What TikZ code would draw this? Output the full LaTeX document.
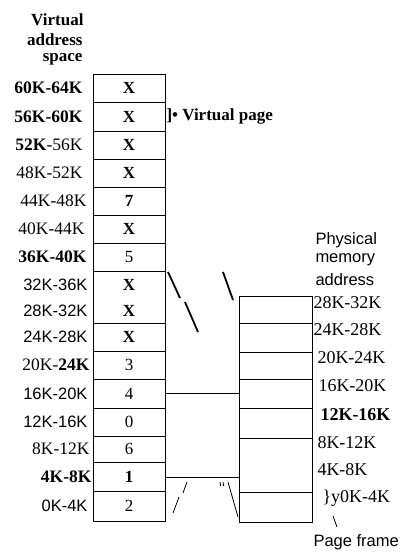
\documentclass[tikz,border=0pt]{standalone}
\usepackage{fontspec}
\setmainfont{Liberation Serif}
\newfontfamily\arialf{Liberation Sans}
\begin{document}
\begin{tikzpicture}[x=1pt,y=-1pt,line width=1pt,
  lbl/.style={anchor=east,inner sep=0pt,font=\fontsize{17.5}{20}\selectfont},
  slbl/.style={anchor=east,inner sep=0pt,font=\arialf\fontsize{16.5}{20}\selectfont},
  val/.style={inner sep=0pt,font=\fontsize{17}{20}\selectfont},
  rlbl/.style={anchor=west,inner sep=0pt,font=\fontsize{18}{20}\selectfont},
  hdr/.style={anchor=east,inner sep=0pt,font=\fontsize{17}{20}\selectfont},
  phys/.style={anchor=west,inner sep=0pt,font=\arialf\fontsize{16.5}{20}\selectfont},
  tick/.style={line width=1.8pt},
  thin/.style={line width=0.8pt}]
\useasboundingbox (0,0) rectangle (405,558);
% headings
\node[hdr] (h1) at (84,20) {\textbf{Virtual}};
\node[hdr] (h2) at (83,40) {\textbf{address}};
\node[hdr] (h3) at (83,59) {\textbf{space}};
% left table
\draw (93,74) rectangle (165,521);
\foreach \yy in {102,131,159,187,215,243,271,323,351,379,408,436,462,491}
  \draw (93,\yy) -- (165,\yy);
% left labels
\node[lbl] (l15) at (83,88) {\textbf{60K-64K}};
\node[lbl] (l14) at (83,116.5) {\textbf{56K-60K}};
\node[lbl] (l13) at (83,145) {\textbf{52K}-56K};
\node[lbl] (l12) at (83,173) {48K-52K};
\node[lbl] (l11) at (87,201) {44K-48K};
\node[lbl] (l10) at (85,229) {40K-44K};
\node[lbl] (l9) at (87,257) {\textbf{36K-40K}};
\node[slbl] (l8) at (88,284.5) {32K-36K};
\node[slbl] (l7) at (88,310.5) {28K-32K};
\node[slbl] (l6) at (88,337) {24K-28K};
\node[lbl] (l5) at (90,365) {20K-\textbf{24K}};
\node[slbl] (l4) at (88,393.5) {16K-20K};
\node[slbl] (l3) at (88,422) {12K-16K};
\node[lbl] (l2) at (90,449) {8K-12K};
\node[lbl] (l1) at (92,476.5) {\textbf{4K-8K}};
\node[slbl] (l0) at (88,506) {0K-4K};
% values
\node[val] (v15) at (129,88) {\textbf{X}};
\node[val] (v14) at (129,116.5) {\textbf{X}};
\node[val] (v13) at (129,145) {\textbf{X}};
\node[val] (v12) at (129,173) {\textbf{X}};
\node[val] (v11) at (129,201) {\textbf{7}};
\node[val] (v10) at (129,229) {\textbf{X}};
\node[val] (v9) at (129,257) {5};
\node[val] (v8) at (129,284.5) {\textbf{X}};
\node[val] (v7) at (129,310.5) {\textbf{X}};
\node[val] (v6) at (129,337) {\textbf{X}};
\node[val] (v5) at (129,365) {3};
\node[val] (v4) at (129,393.5) {4};
\node[val] (v3) at (129,422) {0};
\node[val] (v2) at (129,449) {6};
\node[val] (v1) at (129,476.5) {\textbf{1}};
\node[val] (v0) at (129,506) {2};
% virtual page note
\node[anchor=west,inner sep=0pt,font=\fontsize{17}{18}\selectfont] (vp) at (166,116.5) {\textbf{]\textbullet\ Virtual page}};
% middle box
\draw (165,393) -- (239,393);
\draw (165,477) -- (239,477);
% slashes
\draw[tick] (168,272) -- (180,298);
\draw[tick] (185,302) -- (198,332);
\draw[tick] (223,272) -- (233,300);
\draw[thin] (173,513) -- (179,497);
\draw[thin] (183,493) -- (187,482);
\draw[thin] (220,482) -- (220.7,486);
\draw[thin] (223,482) -- (223.7,486);
\draw[thin] (228,482) -- (238,517);
% right table
\draw (239,296) rectangle (312,522);
\foreach \yy in {323,352,379,408,438,492}
  \draw (239,\yy) -- (312,\yy);
% physical heading
\node[phys] (p1) at (315,240) {Physical};
\node[phys] (p2) at (315,260) {memory};
\node[phys] (p3) at (315,280) {address};
% right labels
\node[rlbl] (r7) at (313,303) {28K-32K};
\node[rlbl] (r6) at (313,330) {24K-28K};
\node[rlbl] (r5) at (317,358) {20K-24K};
\node[rlbl] (r4) at (318,386) {16K-20K};
\node[rlbl] (r3) at (320,415) {\textbf{12K-16K}};
\node[rlbl] (r2) at (317,443) {8K-12K};
\node[rlbl] (r1) at (317,470) {4K-8K};
\node[rlbl] (r0) at (322,498) {\}y0K-4K};
\draw[thin] (333,516) -- (337,527);
\node[phys] (pf) at (313,542) {Page frame};
\end{tikzpicture}
\end{document}
